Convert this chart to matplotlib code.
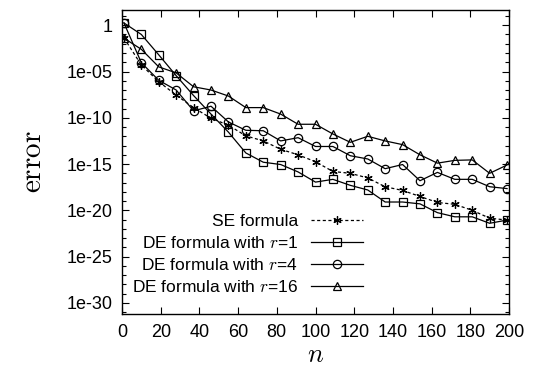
import matplotlib
matplotlib.use('Agg')
import matplotlib.pyplot as plt
import numpy as np

# sample points n = 1, 10, 19, ..., 199
n = [1, 10, 19, 28, 37, 46, 55, 64, 73, 82, 91, 100, 109, 118, 127, 136, 145,
     154, 163, 172, 181, 190, 199]

# log10 of the error
log_se = [-1.37, -4.3, -6.1, -7.55, -8.9, -10.05, -10.8, -11.95, -12.5, -13.4,
          -14.0, -14.75, -15.8, -16.0, -16.5, -17.45, -17.85, -18.5, -19.15,
          -19.35, -20.0, -20.85, -21.05]
log_r1 = [0.25, -1.0, -3.2, -5.45, -7.6, -9.6, -11.55, -13.8, -14.8, -15.05,
          -15.85, -16.95, -16.65, -17.3, -17.8, -19.1, -19.1, -19.3, -20.25,
          -20.7, -20.7, -21.4, -21.05]
log_r4 = [0.25, -4.05, -5.95, -7.0, -9.25, -8.75, -10.45, -11.35, -11.4, -12.5,
          -12.15, -13.1, -13.1, -14.1, -14.45, -15.5, -15.05, -16.8, -15.9,
          -16.65, -16.65, -17.45, -17.65]
log_r16 = [-1.4, -2.6, -4.5, -5.15, -6.65, -7.0, -7.65, -8.9, -8.9, -9.6,
           -10.7, -10.7, -11.75, -12.65, -12.0, -12.5, -12.9, -14.0, -14.9,
           -14.6, -14.55, -16.0, -15.1]

labels = ['SE formula', 'DE formula with $r$=1', 'DE formula with $r$=4',
          'DE formula with $r$=16']
xticks = [0, 20, 40, 60, 80, 100, 120, 140, 160, 180, 200]
yticks = [1e-30, 1e-25, 1e-20, 1e-15, 1e-10, 1e-05, 1]
ytick_labels = ['1e-30', '1e-25', '1e-20', '1e-15', '1e-10', '1e-05', '1']

plt.rcParams['font.family'] = ['Liberation Sans', 'DejaVu Sans']
plt.rcParams['mathtext.fontset'] = 'cm'

fig = plt.figure(figsize=(5.39, 3.76), dpi=100)
ax = fig.add_axes([122 / 539, 1 - 314 / 376, 387 / 539, 304.5 / 376])

ax.plot(n, 10.0 ** np.array(log_se), color='black', lw=0.9, ls=(0, (2.5, 2)),
        marker=(6, 2, 0), ms=6, mew=0.9, label=labels[0])
ax.plot(n, 10.0 ** np.array(log_r1), color='black', lw=0.9, marker='s', ms=5.5,
        mfc='none', mew=0.9, label=labels[1])
ax.plot(n, 10.0 ** np.array(log_r4), color='black', lw=0.9, marker='o', ms=6,
        mfc='none', mew=0.9, label=labels[2])
ax.plot(n, 10.0 ** np.array(log_r16), color='black', lw=0.9, marker='^', ms=6,
        mfc='none', mew=0.9, label=labels[3])

ax.set_yscale('log')
ax.set_xlim(0, 200)
ax.set_ylim(10 ** -31.2, 10 ** 1.7)
ax.set_xticks(xticks)
ax.set_yticks(yticks)
ax.set_yticklabels(ytick_labels)
ax.yaxis.set_minor_locator(matplotlib.ticker.FixedLocator(10.0 ** np.arange(-31, 2)))
ax.yaxis.set_minor_formatter(matplotlib.ticker.NullFormatter())

ax.tick_params(which='both', direction='in', top=True, right=True, width=0.8)
ax.tick_params(which='major', length=5, labelsize=13, pad=7)
ax.tick_params(which='minor', length=3)
for s in ax.spines.values():
    s.set_linewidth(1.0)

ax.set_ylabel(r'$\mathrm{error}$', fontsize=21, labelpad=14)
ax.set_xlabel(r'$n$', fontsize=19, labelpad=2)

ax.legend(loc='upper right', bbox_to_anchor=(363 / 539, 1 - 214 / 376),
          bbox_transform=fig.transFigure, frameon=False, markerfirst=False,
          fontsize=12.5, handlelength=3.0, handletextpad=0.75, labelspacing=0.35,
          borderpad=0, borderaxespad=0)

fig.savefig('out.png', dpi=100)
